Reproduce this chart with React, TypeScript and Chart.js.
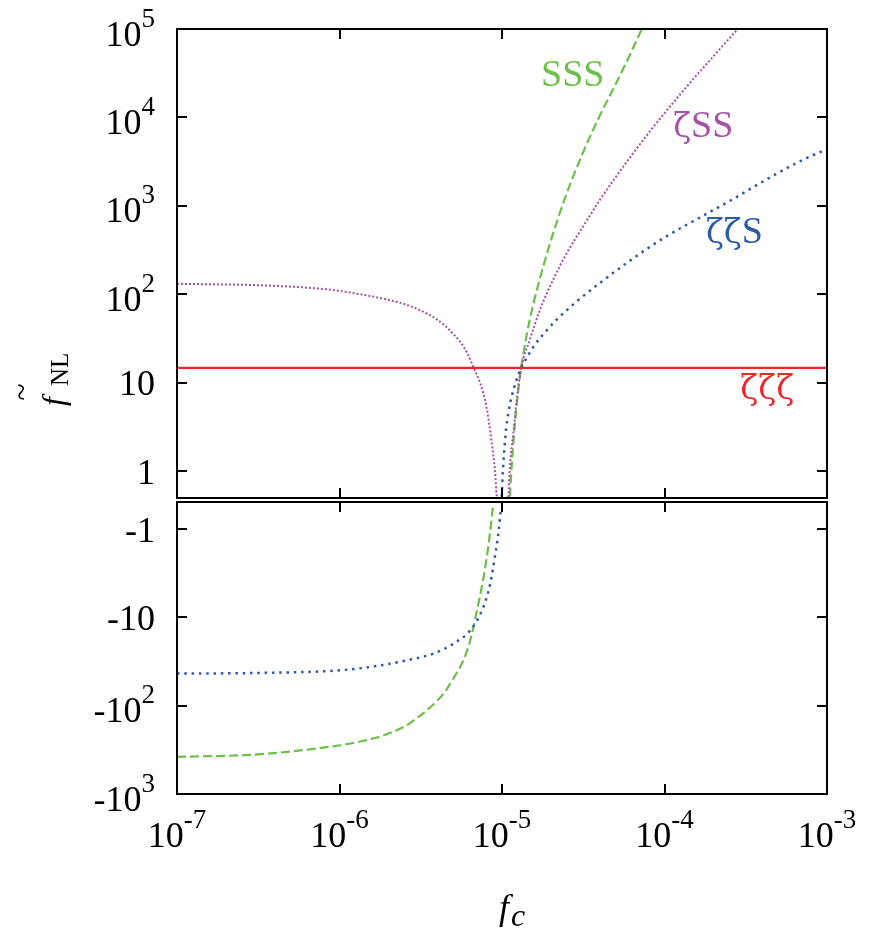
import React, { useEffect, useRef } from 'react';
import { Chart, registerables } from 'chart.js';

Chart.register(...registerables);

// ---------------- data ----------------
// zeta-zeta-zeta : constant
const fcZZZ = [1.0e-7, 1.0e-3];
const fnlZZZ = [14.8, 14.8];

// zeta-S-S (purple, dotted)
const fcZSS = [
  1.0e-7, 3.58e-7, 8.38e-7, 1.28e-6, 1.96e-6, 2.5e-6, 3.0e-6, 3.5e-6, 3.98e-6, 4.5e-6,
  5.05e-6, 5.6e-6, 6.1e-6, 6.7e-6, 7.33e-6, 8.05e-6, 8.65e-6, 9.06e-6, 9.29e-6, 1.007e-5,
  1.094e-5, 1.119e-5, 1.175e-5, 1.23e-5, 1.312e-5, 1.486e-5, 1.714e-5, 2.07e-5, 2.5e-5, 3.162e-5,
  4.009e-5, 5.082e-5, 6.427e-5, 8.147e-5, 1.259e-4, 1.995e-4, 2.825e-4,
];
const fnlZSS = [
  132, 126, 114, 102, 87.5, 78, 68.7, 60, 52, 43.6,
  35.2, 28.2, 21.8, 14.8, 10, 5.2, 2.1, 1.0, 0.52, 0.25,
  0.52, 1.14, 2.72, 6.3, 14.8, 30.9, 67.5, 148, 291, 589,
  1175, 2200, 3960, 7000, 18600, 49000, 100000,
];

// S-S-S (green, dashed)
const fcSSS = [
  1.0e-7, 3.26e-7, 1.01e-6, 1.3e-6, 1.7e-6, 2.1e-6, 2.6e-6, 3.0e-6, 3.45e-6, 4.0e-6,
  4.38e-6, 5.0e-6, 5.53e-6, 6.0e-6, 6.38e-6, 7.01e-6, 7.71e-6, 8.28e-6, 8.79e-6, 1.119e-5,
  1.148e-5, 1.202e-5, 1.262e-5, 1.312e-5, 1.419e-5, 1.556e-5, 1.714e-5, 1.928e-5, 2.07e-5, 2.5e-5,
  3.162e-5, 4.009e-5, 5.082e-5, 6.427e-5, 7.244e-5,
];
const fnlSSS = [
  -381, -355, -281, -258, -230, -200, -167, -138, -113, -88,
  -73, -50, -36.6, -26, -18.3, -8.4, -3.5, -1.48, -0.57, 0.52,
  1.17, 3.53, 8.43, 14.8, 35, 76.6, 153, 325, 499, 1384,
  4070, 10600, 25100, 61700, 100000,
];

// zeta-zeta-S (blue, dotted)
const fcZZS = [
  1.0e-7, 3.26e-7, 1.01e-6, 1.7e-6, 2.73e-6, 3.8e-6, 5.05e-6, 6.38e-6, 7.53e-6, 8.47e-6,
  9.1e-6, 9.55e-6, 9.86e-6, 9.95e-6, 1.019e-5, 1.033e-5, 1.059e-5, 1.094e-5, 1.148e-5, 1.219e-5,
  1.312e-5, 1.419e-5, 1.596e-5, 1.866e-5, 2.193e-5, 2.6e-5, 2.844e-5, 4.009e-5, 6.427e-5, 1.03e-4,
  1.652e-4, 2.649e-4, 4.256e-4, 6.823e-4, 1.0e-3,
];
const fnlZZS = [
  -43.5, -42.8, -39.9, -35.7, -30.2, -25.8, -19.9, -14.1, -8.4, -4.18,
  -1.92, -1.04, -0.57, 0.52, 1.24, 1.75, 2.96, 4.58, 7.05, 10.4,
  14.8, 19.2, 27.1, 38.4, 53, 70.5, 81.6, 135, 256, 455,
  740, 1200, 2000, 3200, 4400,
];

// ticks
const xTickValues = [1e-7, 1e-6, 1e-5, 1e-4, 1e-3];
const xTickBases = ['10', '10', '10', '10', '10'];
const xTickExps = ['-7', '-6', '-5', '-4', '-3'];

const topTickValues = [1, 10, 100, 1e3, 1e4, 1e5];
const topTickBases = ['1', '10', '10', '10', '10', '10'];
const topTickExps = ['', '', '2', '3', '4', '5'];

const botTickValues = [-1, -10, -100, -1000];
const botTickBases = ['-1', '-10', '-10', '-10'];
const botTickExps = ['', '', '2', '3'];

// curve names
const seriesNames = ['ζζζ', 'ζζS', 'ζSS', 'SSS'];

// ---------------- styles ----------------
const RED = '#e8282b';
const BLUE = '#2b5aa8';
const PURPLE = '#a650a8';
const GREEN = '#6cc04a';
const SERIF = "'Liberation Serif', 'Times New Roman', serif";
const GREEK = "'DejaVu Serif', serif";
const BASE_FONT = `36px ${SERIF}`;
const EXP_FONT = `27px ${SERIF}`;
const EXP_RISE = 19;
const TICK_LEN = 10;

// label anchors in data coordinates (left, baseline)
const nameAnchors = [
  { name: seriesNames[3], fc: 1.74e-5, fnl: 22500, color: GREEN },
  { name: seriesNames[2], fc: 1.13e-4, fnl: 5960, color: PURPLE },
  { name: seriesNames[1], fc: 1.8e-4, fnl: 386, color: BLUE },
  { name: seriesNames[0], fc: 2.93e-4, fnl: 6.5, color: RED },
];

function pts(xs: number[], ys: number[], sign: number) {
  return xs.map((x, i) => ({ x, y: sign * ys[i] }));
}

function drawPow(
  ctx: CanvasRenderingContext2D,
  base: string,
  exp: string,
  x: number,
  y: number,
  align: 'left' | 'right' | 'center'
) {
  ctx.font = BASE_FONT;
  const wb = ctx.measureText(base).width;
  ctx.font = EXP_FONT;
  const we = exp ? ctx.measureText(exp).width : 0;
  const total = wb + we;
  const sx = align === 'right' ? x - total : align === 'center' ? x - total / 2 : x;
  ctx.textAlign = 'left';
  ctx.textBaseline = 'alphabetic';
  ctx.fillStyle = '#000';
  ctx.font = BASE_FONT;
  ctx.fillText(base, sx, y);
  if (exp) {
    ctx.font = EXP_FONT;
    ctx.fillText(exp, sx + wb, y - EXP_RISE);
  }
}

// draws a curve name, Greek zeta in an upright face, Latin in Times-like face
function drawName(ctx: CanvasRenderingContext2D, text: string, x: number, y: number, color: string) {
  ctx.fillStyle = color;
  ctx.textAlign = 'left';
  ctx.textBaseline = 'alphabetic';
  let cx = x;
  for (const ch of Array.from(text)) {
    ctx.font = ch === 'ζ' ? `33px ${GREEK}` : `38px ${SERIF}`;
    ctx.fillText(ch, cx, y);
    cx += ctx.measureText(ch).width;
  }
}

function makeDatasets(sign: number) {
  return [
    {
      label: seriesNames[0],
      data: pts(fcZZZ, fnlZZZ, sign),
      borderColor: RED,
      borderWidth: 2.2,
    },
    {
      label: seriesNames[1],
      data: pts(fcZZS, fnlZZS, sign),
      borderColor: BLUE,
      borderWidth: 2.5,
      borderDash: [2.5, 4.8],
    },
    {
      label: seriesNames[2],
      data: pts(fcZSS, fnlZSS, sign),
      borderColor: PURPLE,
      borderWidth: 2,
      borderDash: [2, 2],
    },
    {
      label: seriesNames[3],
      data: pts(fcSSS, fnlSSS, sign),
      borderColor: GREEN,
      borderWidth: 2.2,
      borderDash: [9, 4],
    },
  ].map((d) => ({ ...d, pointRadius: 0, fill: false, cubicInterpolationMode: 'monotone' as const }));
}

function frameAndTicks(chart: any, yVals: number[], ySign: number) {
  const { ctx, chartArea: a, scales } = chart;
  ctx.save();
  ctx.strokeStyle = '#000';
  ctx.lineWidth = 2;
  ctx.beginPath();
  for (const t of xTickValues) {
    const px = Math.round(scales.x.getPixelForValue(t));
    ctx.moveTo(px, a.top);
    ctx.lineTo(px, a.top + TICK_LEN);
    ctx.moveTo(px, a.bottom);
    ctx.lineTo(px, a.bottom - TICK_LEN);
  }
  for (const v of yVals) {
    const py = Math.round(scales.y.getPixelForValue(ySign * v));
    ctx.moveTo(a.left, py);
    ctx.lineTo(a.left + TICK_LEN, py);
    ctx.moveTo(a.right, py);
    ctx.lineTo(a.right - TICK_LEN, py);
  }
  ctx.stroke();
  ctx.strokeRect(a.left, a.top, a.right - a.left, a.bottom - a.top);
  ctx.restore();
}

const topPlugin = {
  id: 'topDecor',
  afterDatasetsDraw(chart: any) {
    const { ctx, chartArea: a, scales } = chart;
    frameAndTicks(chart, topTickValues, 1);
    ctx.save();
    // y tick labels
    topTickValues.forEach((v, i) => {
      const py = scales.y.getPixelForValue(v);
      const off = topTickExps[i] ? 16.5 : 12.5;
      drawPow(ctx, topTickBases[i], topTickExps[i], a.left - 22, py + off, 'right');
    });
    // curve names
    nameAnchors.forEach((n) => {
      drawName(ctx, n.name, scales.x.getPixelForValue(n.fc), scales.y.getPixelForValue(n.fnl), n.color);
    });
    // y-axis title  f~_NL (rotated)
    ctx.fillStyle = '#000';
    ctx.translate(64, 406);
    ctx.rotate(-Math.PI / 2);
    ctx.textAlign = 'left';
    ctx.textBaseline = 'alphabetic';
    ctx.font = `italic 32px ${SERIF}`;
    ctx.fillText('f', 0, 0);
    ctx.font = `25px ${SERIF}`;
    ctx.fillText('NL', 20, 4);
    ctx.font = `32px ${SERIF}`;
    ctx.textAlign = 'center';
    ctx.fillText('~', 14, -32);
    ctx.restore();
  },
};

const bottomPlugin = {
  id: 'bottomDecor',
  afterDatasetsDraw(chart: any) {
    const { ctx, chartArea: a, scales } = chart;
    frameAndTicks(chart, botTickValues, -1);
    ctx.save();
    botTickValues.forEach((v, i) => {
      const py = scales.y.getPixelForValue(-v);
      const off = botTickExps[i] ? 16.5 : 13;
      drawPow(ctx, botTickBases[i], botTickExps[i], a.left - 22, py + off, 'right');
    });
    xTickValues.forEach((v, i) => {
      const px = scales.x.getPixelForValue(v);
      drawPow(ctx, xTickBases[i], xTickExps[i], px, a.bottom + 53, 'center');
    });
    // x-axis title f_c
    const cx = (a.left + a.right) / 2 + 9;
    ctx.fillStyle = '#000';
    ctx.textAlign = 'left';
    ctx.textBaseline = 'alphabetic';
    ctx.font = `italic 36px ${SERIF}`;
    ctx.fillText('f', cx - 12, a.bottom + 125);
    ctx.font = `italic 32px ${SERIF}`;
    ctx.fillText('c', cx, a.bottom + 132);
    ctx.restore();
  },
};

function baseOptions(padding: any, yScale: any) {
  return {
    responsive: false,
    animation: false as const,
    devicePixelRatio: 1,
    layout: { padding },
    plugins: { legend: { display: false }, tooltip: { enabled: false } },
    scales: {
      x: { type: 'logarithmic' as const, min: 1e-7, max: 1e-3, display: false },
      y: yScale,
    },
  };
}

export default function App() {
  const topRef = useRef<HTMLCanvasElement>(null);
  const botRef = useRef<HTMLCanvasElement>(null);

  useEffect(() => {
    const top = new Chart(topRef.current as HTMLCanvasElement, {
      type: 'line',
      data: { datasets: makeDatasets(1) as any },
      options: baseOptions(
        { left: 177, right: 43, top: 29, bottom: 2 },
        { type: 'logarithmic', min: 0.5, max: 1e5, display: false }
      ) as any,
      plugins: [topPlugin],
    });
    const bot = new Chart(botRef.current as HTMLCanvasElement, {
      type: 'line',
      data: { datasets: makeDatasets(-1) as any },
      options: baseOptions(
        { left: 177, right: 43, top: 2, bottom: 136 },
        { type: 'logarithmic', min: 0.5, max: 1000, reverse: true, display: false }
      ) as any,
      plugins: [bottomPlugin],
    });
    return () => {
      top.destroy();
      bot.destroy();
    };
  }, []);

  return (
    <div style={{ position: 'fixed', left: 0, top: 0, width: 870, height: 930, background: '#fff' }}>
      <canvas
        ref={topRef}
        width={870}
        height={500}
        style={{ position: 'absolute', left: 0, top: 0, width: 870, height: 500 }}
      />
      <canvas
        ref={botRef}
        width={870}
        height={430}
        style={{ position: 'absolute', left: 0, top: 500, width: 870, height: 430 }}
      />
    </div>
  );
}
